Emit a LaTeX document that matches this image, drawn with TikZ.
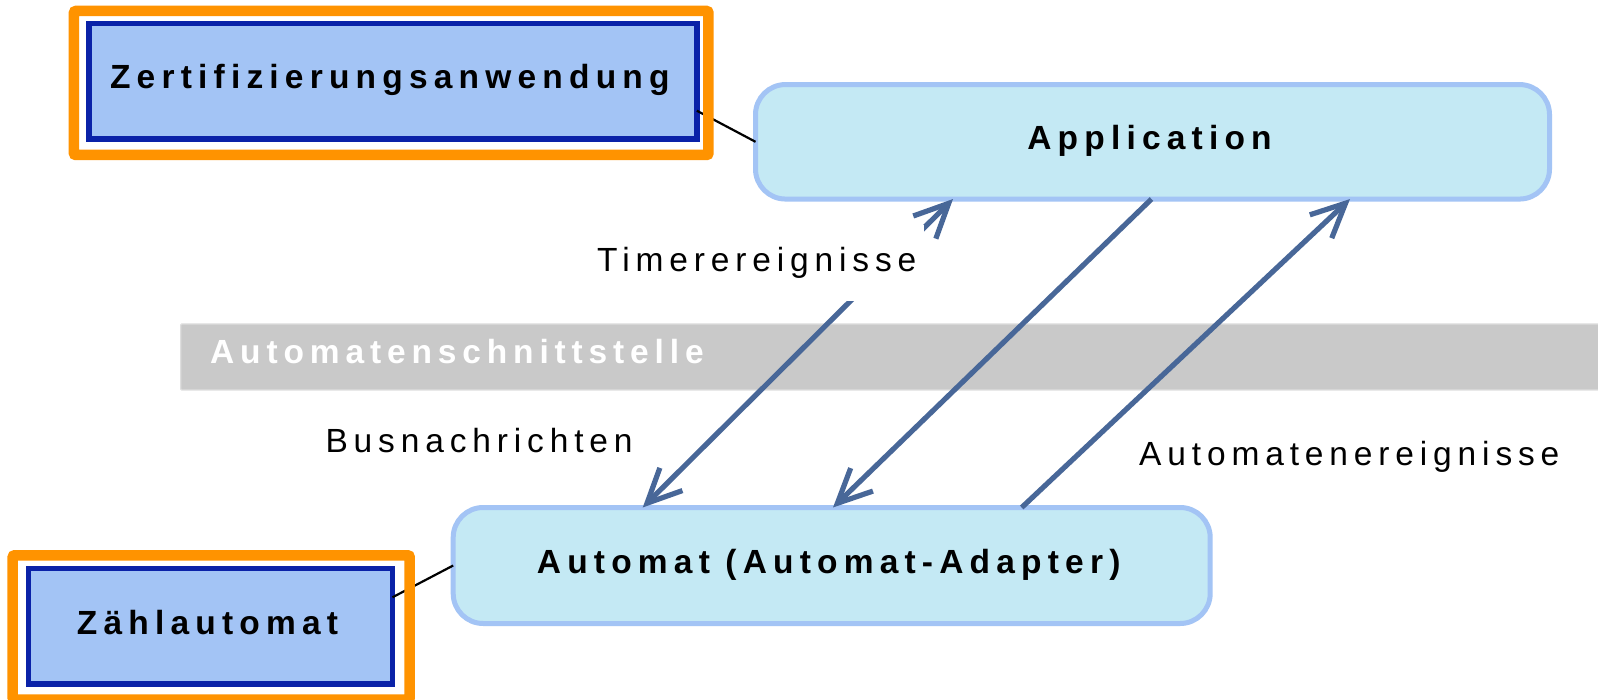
\documentclass[tikz,border=0pt]{standalone}
\usepackage{fontspec}
\setmainfont{Liberation Sans}
\newfontfamily\spaced{Liberation Sans}[LetterSpace=17.5]
\newfontfamily\spacedwide{Liberation Sans}[LetterSpace=18.5]
\usetikzlibrary{arrows.meta}

\definecolor{unitfill}{RGB}{163,196,245}
\definecolor{unitedge}{RGB}{10,34,168}
\definecolor{framecol}{RGB}{255,147,0}
\definecolor{roundfill}{RGB}{196,233,244}
\definecolor{roundedge}{RGB}{163,196,245}
\definecolor{flowblue}{RGB}{72,103,152}
\definecolor{bandgray}{RGB}{201,201,201}
\definecolor{bandedge}{RGB}{222,222,222}

\newcommand\lblfont{\spaced\fontsize{33.5}{40}\selectfont}
\newcommand\boxfont{\spacedwide\fontsize{33.5}{40}\selectfont\bfseries}

\tikzset{
  barb/.tip={Straight Barb[length=34pt,width=32pt]},
  boxtext/.style={text height=24pt, text depth=8.5pt, font=\boxfont,
    execute at begin node={\kern-6pt}},
  unitbox/.style={boxtext, draw=unitedge, fill=unitfill, line width=5.5pt, inner sep=0pt,
    outer sep=0pt},
  framebox/.style={draw=framecol, line width=10.5pt, rounded corners=2pt,
    inner sep=0pt, outer sep=0pt},
  roundbox/.style={boxtext, draw=roundedge, fill=roundfill, line width=5pt,
    rounded corners=30pt, inner sep=0pt, outer sep=0pt},
  bandbox/.style={fill=bandgray, draw=bandedge, line width=1.2pt, rounded corners=1pt,
    inner sep=0pt, outer sep=0pt},
  bandtext/.style={text=white, font=\lblfont\bfseries, inner sep=0pt, anchor=base west},
  tag/.style={font=\lblfont, inner sep=0pt, anchor=base west},
  link/.style={draw=black, line width=2.2pt},
  flow/.style={draw=flowblue, line width=5.2pt}
}

\begin{document}
\begin{tikzpicture}[x=1pt,y=-1pt]
  \clip (0,0) rectangle (1598,700);
  \fill[white] (0,0) rectangle (1598,700);

  % interface band
  \node[bandbox, anchor=north west, minimum width=1430pt, minimum height=66pt]
    (band) at (180.7,324) {};
  \node[bandtext] (bandlabel) at (210,363.3) {Automatenschnittstelle};

  % boxes
  \node[unitbox, minimum width=608pt, minimum height=115.5pt]
    (zert) at (392.8,81.2) {Zertifizierungsanwendung};
  \node[unitbox, minimum width=364pt, minimum height=115.7pt]
    (zaehl) at (210.5,626.3) {Zählautomat};
  \node[roundbox, minimum width=794pt, minimum height=114.5pt]
    (app) at (1152.5,141.8) {Application};
  \node[roundbox, minimum width=757pt, minimum height=116pt]
    (automat) at (831.7,565.5) {Automat (Automat-Adapter)};

  % assignment lines
  \draw[link] ([yshift=-29.5pt]zert.east) -- (app.west);
  \draw[link] ([yshift=29pt]zaehl.east) -- (automat.west);

  % orange frames
  \node[framebox, minimum width=634.5pt, minimum height=144pt]
    (zertframe) at (391.2,83) {};
  \node[framebox, minimum width=397pt, minimum height=144.4pt]
    (zaehlframe) at (211.2,627.5) {};

  % message flows
  \draw[flow, barb-barb] ([xshift=-189pt]automat.north) -- ([xshift=-199.5pt]app.south);
  \draw[flow, -barb] ([xshift=-1pt]app.south) -- ([xshift=1.3pt]automat.north);
  \draw[flow, -barb] ([xshift=190pt]automat.north) -- ([xshift=197.5pt]app.south);

  % flow labels
  \node[tag, fill=white, inner xsep=8pt, inner ysep=22pt] (timer) at (589,271.7) {Timerereignisse};
  \node[tag] (busmsg) at (325.3,452.7) {Busnachrichten};
  \node[tag] (autoev) at (1139,465) {Automatenereignisse};
\end{tikzpicture}
\end{document}
